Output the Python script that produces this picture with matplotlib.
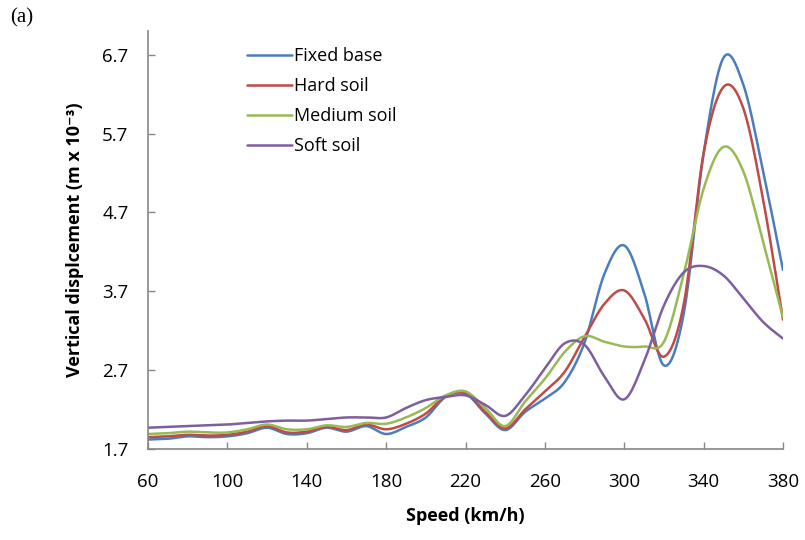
import numpy as np
import matplotlib
matplotlib.use("Agg")
import matplotlib.pyplot as plt

speeds = list(range(60, 390, 10))

fixed_base = [1.82, 1.83, 1.86, 1.85, 1.86, 1.90, 1.97, 1.89, 1.90, 1.97, 1.92,
              1.99, 1.89, 1.98, 2.10, 2.36, 2.40, 2.15, 1.94, 2.17, 2.34, 2.55,
              3.05, 3.92, 4.28, 3.68, 2.76, 3.42, 5.45, 6.66, 6.32, 5.22, 3.97]
hard_soil = [1.85, 1.86, 1.88, 1.87, 1.88, 1.92, 1.99, 1.91, 1.92, 1.98, 1.94,
             2.01, 1.95, 2.02, 2.15, 2.37, 2.41, 2.17, 1.96, 2.20, 2.43, 2.68,
             3.12, 3.54, 3.71, 3.36, 2.87, 3.54, 5.45, 6.29, 6.02, 4.86, 3.34]
medium_soil = [1.89, 1.90, 1.92, 1.91, 1.91, 1.95, 2.01, 1.95, 1.95, 2.00, 1.98,
               2.03, 2.02, 2.10, 2.22, 2.38, 2.43, 2.22, 1.99, 2.30, 2.59, 2.93,
               3.13, 3.06, 3.00, 3.00, 3.06, 3.92, 5.00, 5.53, 5.22, 4.32, 3.37]
soft_soil = [1.97, 1.98, 1.99, 2.00, 2.01, 2.03, 2.05, 2.06, 2.06, 2.08, 2.10,
             2.10, 2.10, 2.22, 2.32, 2.36, 2.38, 2.26, 2.12, 2.38, 2.72, 3.04,
             3.02, 2.62, 2.33, 2.81, 3.52, 3.94, 4.02, 3.90, 3.61, 3.31, 3.10]

series_names = ["Fixed base", "Hard soil", "Medium soil", "Soft soil"]
colors = ["#4A7EBB", "#BE4B48", "#98B954", "#7D5FA0"]

x_ticks = [60, 100, 140, 180, 220, 260, 300, 340, 380]
y_ticks = [1.7, 2.7, 3.7, 4.7, 5.7, 6.7]


def smooth(x, y, n=40):
    """Excel-like smoothing via Catmull-Rom Bezier segments."""
    P = np.column_stack([np.asarray(x, float), np.asarray(y, float)])
    m = len(P)
    out = []
    for i in range(m - 1):
        p0 = P[i - 1] if i > 0 else P[i]
        p1 = P[i]
        p2 = P[i + 1]
        p3 = P[i + 2] if i + 2 < m else P[i + 1]
        c1 = p1 + (p2 - p0) / 6.0
        c2 = p2 - (p3 - p1) / 6.0
        t = np.linspace(0, 1, n, endpoint=(i == m - 2))[:, None]
        b = ((1 - t) ** 3) * p1 + 3 * ((1 - t) ** 2) * t * c1 + 3 * (1 - t) * t ** 2 * c2 + t ** 3 * p2
        out.append(b)
    b = np.vstack(out)
    return b[:, 0], b[:, 1]


plt.rcParams['font.family'] = ['Open Sans', 'DejaVu Sans']

fig = plt.figure(figsize=(8.05, 5.40), dpi=100)
ax = fig.add_axes([148 / 805, 1 - 449 / 540, (783 - 148) / 805, (449 - 31) / 540])

for vals, name, col in zip([fixed_base, hard_soil, medium_soil, soft_soil], series_names, colors):
    sx, sy = smooth(speeds, vals)
    ax.plot(sx, sy, color=col, lw=1.8, label=name, solid_capstyle='round')

ax.set_xlim(60, 380)
ax.set_ylim(1.7, 7.0)
ax.set_xticks(x_ticks)
ax.set_yticks(y_ticks)
ax.set_yticklabels([f"{v:.1f}" for v in y_ticks])

grey = "#868686"
for s in ["top", "right"]:
    ax.spines[s].set_visible(False)
for s in ["left", "bottom"]:
    ax.spines[s].set_color(grey)
    ax.spines[s].set_linewidth(1.2)
ax.tick_params(axis='x', direction='in', length=5, width=1, color=grey, labelsize=13.5, pad=17)
ax.tick_params(axis='y', direction='in', length=5, width=1, color=grey, labelsize=13.5, pad=14)

ax.set_xlabel("Speed (km/h)", fontsize=13, fontweight='bold', labelpad=12)
ax.set_ylabel("Vertical displcement (m x 10⁻³)", fontsize=13, fontweight='bold', labelpad=13)

leg = ax.legend(loc='upper left', bbox_to_anchor=(0.13, 1.0), frameon=False, fontsize=13,
                handlelength=2.5, handletextpad=0.1, labelspacing=0.66)

fig.text(10 / 805, 1 - 18 / 540, "(a)", fontsize=15, family='Liberation Serif', va='center', ha='left')

fig.savefig("out.png", dpi=100)
